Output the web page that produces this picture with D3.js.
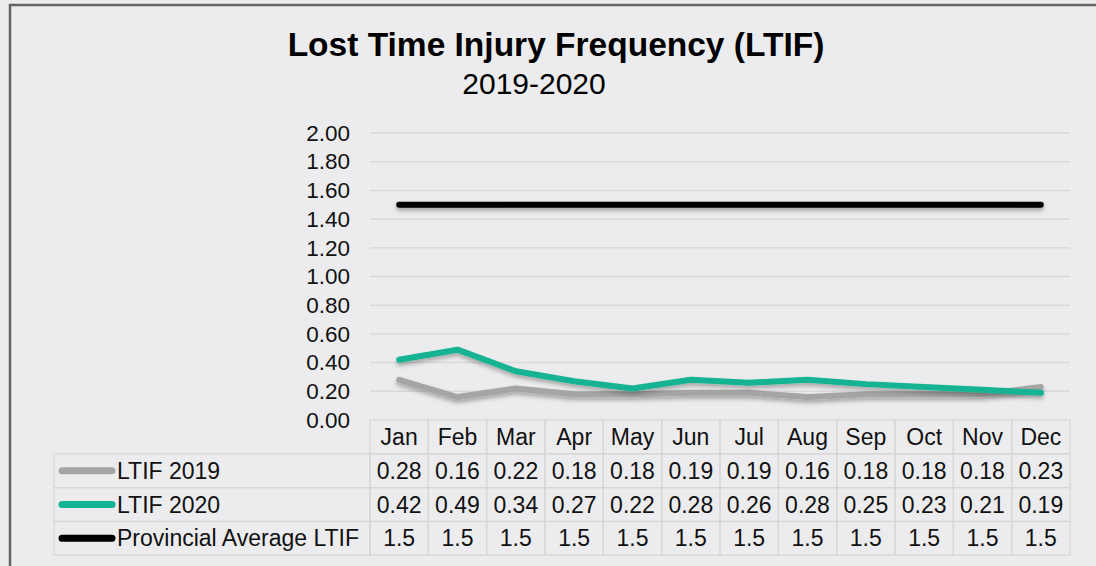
<!DOCTYPE html>
<html>
<head>
<meta charset="utf-8">
<script src="https://cdn.jsdelivr.net/npm/d3@7"></script>
<style>
  html, body { margin: 0; padding: 0; background: #ececee; }
  svg { display: block; font-family: "Liberation Sans", Arial, sans-serif; }
</style>
</head>
<body>
<div id="chart"></div>
<script>
const months = ["Jan", "Feb", "Mar", "Apr", "May", "Jun", "Jul", "Aug", "Sep", "Oct", "Nov", "Dec"];
const ltif2019 = [0.28, 0.16, 0.22, 0.18, 0.18, 0.19, 0.19, 0.16, 0.18, 0.18, 0.18, 0.23];
const ltif2020 = [0.42, 0.49, 0.34, 0.27, 0.22, 0.28, 0.26, 0.28, 0.25, 0.23, 0.21, 0.19];
const provincial = [1.5, 1.5, 1.5, 1.5, 1.5, 1.5, 1.5, 1.5, 1.5, 1.5, 1.5, 1.5];
const yTicks = [0, 0.2, 0.4, 0.6, 0.8, 1.0, 1.2, 1.4, 1.6, 1.8, 2.0];

const series = [
  {name: "LTIF 2019", values: ltif2019, color: "#a5a5a5", fmt: d3.format(".2f")},
  {name: "LTIF 2020", values: ltif2020, color: "#14b393", fmt: d3.format(".2f")},
  {name: "Provincial Average LTIF", values: provincial, color: "#000000", fmt: d3.format(".1f")}
];

const width = 1096, height = 566;
const svg = d3.select("#chart").append("svg")
    .attr("width", width)
    .attr("height", height);

// soft drop shadow under the lines (user space so flat lines still render)
const defs = svg.append("defs");
const shadow = defs.append("filter").attr("id", "shadow")
    .attr("filterUnits", "userSpaceOnUse")
    .attr("x", 0).attr("y", 0).attr("width", width).attr("height", height);
shadow.append("feDropShadow")
    .attr("dx", 0).attr("dy", 3).attr("stdDeviation", 2)
    .attr("flood-color", "#000").attr("flood-opacity", 0.3);

// frame (top + left edges visible)
svg.append("rect").attr("x", 0).attr("y", 0).attr("width", width).attr("height", height).attr("fill", "#ececee");
svg.append("line").attr("x1", 9).attr("x2", width).attr("y1", 5).attr("y2", 5)
    .attr("stroke", "#646464").attr("stroke-width", 2.5);
svg.append("line").attr("x1", 10).attr("x2", 10).attr("y1", 4).attr("y2", height)
    .attr("stroke", "#646464").attr("stroke-width", 2.5);

// titles
svg.append("text")
    .attr("x", 556).attr("y", 56)
    .attr("text-anchor", "middle")
    .attr("font-size", 33.5).attr("font-weight", "bold")
    .attr("fill", "#000")
    .text("Lost Time Injury Frequency (LTIF)");
svg.append("text")
    .attr("x", 534).attr("y", 94)
    .attr("text-anchor", "middle")
    .attr("font-size", 30)
    .attr("fill", "#000")
    .text("2019-2020");

const x = d3.scaleBand().domain(months).range([370, 1070]).padding(0);
const y = d3.scaleLinear().domain([0, 2]).range([420, 133]);

// gridlines
svg.append("g")
    .selectAll("line")
    .data(yTicks.filter(d => d > 0))
    .join("line")
    .attr("x1", 370).attr("x2", 1070)
    .attr("y1", d => y(d)).attr("y2", d => y(d))
    .attr("stroke", "#dadadc").attr("stroke-width", 1.5);

// y axis
const yAxis = svg.append("g")
    .attr("transform", "translate(356,0)")
    .call(d3.axisLeft(y).tickValues(yTicks).tickFormat(d3.format(".2f")).tickSize(0).tickPadding(6));
yAxis.select(".domain").remove();
yAxis.selectAll("text")
    .attr("font-size", 22.5)
    .attr("font-family", "\"Liberation Sans\", Arial, sans-serif")
    .attr("fill", "#111");

// lines
const line = d3.line()
    .x((d, i) => x(months[i]) + x.bandwidth() / 2)
    .y(d => y(d));

svg.append("g")
    .selectAll("path")
    .data(series)
    .join("path")
    .attr("d", d => line(d.values))
    .attr("fill", "none")
    .attr("stroke", d => d.color)
    .attr("stroke-width", 6)
    .attr("stroke-linecap", "round")
    .attr("stroke-linejoin", "round")
    .attr("filter", "url(#shadow)");

// data table
const rowH = 33.8;
const tableTop = 420;
const legendLeft = 54;
const gridColor = "#d6d6d8";
const fs = 23;
const table = svg.append("g");

// header row cells
table.selectAll(".hcell")
    .data(months)
    .join("rect")
    .attr("x", d => x(d)).attr("y", tableTop)
    .attr("width", x.bandwidth()).attr("height", rowH)
    .attr("fill", "none").attr("stroke", gridColor).attr("stroke-width", 1.2);

table.selectAll(".htext")
    .data(months)
    .join("text")
    .attr("x", d => x(d) + x.bandwidth() / 2)
    .attr("y", tableTop + rowH / 2)
    .attr("dy", "0.35em")
    .attr("text-anchor", "middle")
    .attr("font-size", fs)
    .attr("fill", "#111")
    .text(d => d);

series.forEach((s, r) => {
  const top = tableTop + rowH * (r + 1);
  const row = table.append("g");
  row.append("rect")
      .attr("x", legendLeft).attr("y", top)
      .attr("width", 370 - legendLeft).attr("height", rowH)
      .attr("fill", "none").attr("stroke", gridColor).attr("stroke-width", 1.2);
  row.append("line")
      .attr("x1", 62).attr("x2", 112)
      .attr("y1", top + rowH / 2).attr("y2", top + rowH / 2)
      .attr("stroke", s.color).attr("stroke-width", 7).attr("stroke-linecap", "round");
  row.append("text")
      .attr("x", 117).attr("y", top + rowH / 2)
      .attr("dy", "0.35em")
      .attr("font-size", fs)
      .attr("fill", "#111")
      .text(s.name);
  row.selectAll("rect.cell")
      .data(months)
      .join("rect")
      .attr("class", "cell")
      .attr("x", d => x(d)).attr("y", top)
      .attr("width", x.bandwidth()).attr("height", rowH)
      .attr("fill", "none").attr("stroke", gridColor).attr("stroke-width", 1.2);
  row.selectAll("text.val")
      .data(s.values)
      .join("text")
      .attr("class", "val")
      .attr("x", (d, i) => x(months[i]) + x.bandwidth() / 2)
      .attr("y", top + rowH / 2)
      .attr("dy", "0.35em")
      .attr("text-anchor", "middle")
      .attr("font-size", fs)
      .attr("fill", "#111")
      .text(d => s.fmt(d));
});
</script>
</body>
</html>
